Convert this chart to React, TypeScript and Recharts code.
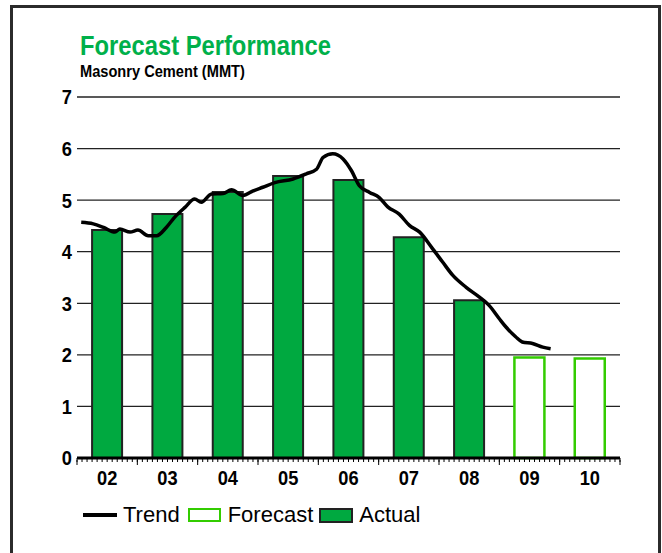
import React from "react";
import { ComposedChart, Bar, Line, XAxis, YAxis, CartesianGrid } from "recharts";

const years = ["02", "03", "04", "05", "06", "07", "08", "09", "10"];
const actual = [4.42, 4.73, 5.16, 5.47, 5.39, 4.28, 3.06, null, null];
const forecast = [null, null, null, null, null, null, null, 1.95, 1.93];

// trend position is in category units (0 = "02", 8 = "10")
const trendX = [
  -0.43, -0.23, -0.06, 0.13, 0.21, 0.38, 0.51, 0.68, 0.82, 0.98, 1.12, 1.29, 1.45, 1.56, 1.73, 1.92,
  2.06, 2.25, 2.42, 2.58, 2.78, 3.08, 3.3, 3.47, 3.58, 3.74, 3.91, 4.05, 4.18, 4.35, 4.51, 4.65,
  4.84, 5.01, 5.18, 5.38, 5.56, 5.73, 5.95, 6.17, 6.33, 6.5, 6.61, 6.77, 6.88, 7.05, 7.22, 7.35
];
const trendY = [
  4.57, 4.54, 4.47, 4.38, 4.44, 4.38, 4.42, 4.31, 4.31, 4.47, 4.67, 4.86, 5.02, 4.96, 5.12, 5.13,
  5.2, 5.09, 5.18, 5.25, 5.34, 5.41, 5.51, 5.6, 5.83, 5.9, 5.8, 5.57, 5.28, 5.15, 5.05, 4.87,
  4.73, 4.51, 4.38, 4.08, 3.8, 3.54, 3.31, 3.12, 2.96, 2.7, 2.54, 2.35, 2.25, 2.22, 2.15, 2.12
];

const yTicks = [0, 1, 2, 3, 4, 5, 6, 7];

const data = years.map((year, i) => ({ year, actual: actual[i], forecast: forecast[i] }));
const trendData = trendX.map((x, i) => ({ x, trend: trendY[i] }));

// month ticks along the x axis
const monthTicks: number[] = [];
for (let i = 0; i <= years.length * 12; i++) monthTicks.push(-0.5 + i / 12);

const GREEN = "#00A940";
const LIGHT_GREEN = "#33CC00";
const FONT = "'Liberation Sans', Arial, sans-serif";

const near = (a: number, b: number) => Math.abs(a - b) < 1e-6;

const YTick = (props: any) => {
  const { x, y, payload } = props;
  return (
    <g transform={`translate(${x} ${y}) scale(0.87 1)`}>
      <text x={0} y={0} dy="0.355em" textAnchor="end" fontSize={21} fontWeight="bold" fill="#000" fontFamily={FONT}>
        {payload.value}
      </text>
    </g>
  );
};

// month ticks: longer at year boundaries, year label at year centre
const MonthTick = (props: any) => {
  const { x, y, payload } = props;
  const v = payload.value;
  const idx = Math.round(v);
  if (near(v + 0.5, Math.round(v + 0.5))) {
    return <line x1={x} x2={x} y1={y - 2} y2={y + 3} stroke="#000" strokeWidth={1} />;
  }
  if (near(v, idx) && years[idx]) {
    return (
      <g transform={`translate(${x} ${y + 8}) scale(0.87 1)`}>
        <text x={0} y={0} dy="0.71em" textAnchor="middle" fontSize={21} fontWeight="bold" fill="#000" fontFamily={FONT}>
          {years[idx]}
        </text>
      </g>
    );
  }
  return <g />;
};

const App = () => {
  return (
    <div
      style={{
        position: "absolute",
        left: 0,
        top: 0,
        width: 662,
        height: 553,
        overflow: "hidden",
        background: "#fff",
        fontFamily: FONT
      }}
    >
      <div
        style={{
          position: "absolute",
          left: 10,
          top: 5,
          width: 651,
          height: 620,
          border: "3px solid #2b2b2b",
          boxSizing: "border-box"
        }}
      />
      <div
        style={{
          position: "absolute",
          left: 80,
          top: 33,
          fontSize: 27,
          lineHeight: "27px",
          fontWeight: "bold",
          color: "#00B04A",
          whiteSpace: "nowrap",
          transform: "scaleX(0.88)",
          transformOrigin: "left"
        }}
      >
        Forecast Performance
      </div>
      <div
        style={{
          position: "absolute",
          left: 80,
          top: 63,
          fontSize: 17,
          lineHeight: "17px",
          fontWeight: "bold",
          color: "#000",
          whiteSpace: "nowrap",
          transform: "scaleX(0.86)",
          transformOrigin: "left"
        }}
      >
        Masonry Cement (MMT)
      </div>
      <ComposedChart
        width={662}
        height={553}
        data={data}
        margin={{ top: 97, right: 42, bottom: 65, left: 0 }}
        barCategoryGap="25%"
        style={{ position: "absolute", left: 0, top: 0 }}
      >
        <CartesianGrid vertical={false} stroke="#222" strokeWidth={1.3} />
        <XAxis xAxisId="cat" dataKey="year" hide height={0} />
        <XAxis
          xAxisId="m"
          type="number"
          dataKey="x"
          domain={[-0.5, 8.5]}
          allowDataOverflow
          ticks={monthTicks}
          interval={0}
          height={30}
          axisLine={{ stroke: "#000", strokeWidth: 3 }}
          tickLine={{ stroke: "#000", strokeWidth: 1 }}
          tickSize={4}
          tickMargin={0}
          tick={<MonthTick />}
        />
        <YAxis
          width={77}
          domain={[0, 7]}
          ticks={yTicks}
          interval={0}
          axisLine={false}
          tickLine={false}
          tickSize={0}
          tickMargin={5}
          tick={<YTick />}
        />
        <Bar
          xAxisId="cat"
          dataKey="actual"
          stackId="s"
          fill={GREEN}
          stroke="#222"
          strokeWidth={2}
          isAnimationActive={false}
        />
        <Bar
          xAxisId="cat"
          dataKey="forecast"
          stackId="s"
          fill="#fff"
          stroke={LIGHT_GREEN}
          strokeWidth={2.5}
          isAnimationActive={false}
        />
        <Line
          xAxisId="m"
          data={trendData}
          dataKey="trend"
          type="monotone"
          stroke="#000"
          strokeWidth={3.5}
          dot={false}
          isAnimationActive={false}
        />
      </ComposedChart>
      <div
        style={{
          position: "absolute",
          left: 83,
          top: 503,
          height: 24,
          display: "flex",
          alignItems: "center",
          fontSize: 22,
          lineHeight: "24px",
          color: "#000",
          whiteSpace: "nowrap"
        }}
      >
        <span style={{ width: 34, height: 4, background: "#000", marginRight: 6 }} />
        <span style={{ marginRight: 8 }}>Trend</span>
        <span
          style={{
            width: 33,
            height: 14,
            border: `2px solid ${LIGHT_GREEN}`,
            boxSizing: "border-box",
            background: "#fff",
            marginRight: 7
          }}
        />
        <span style={{ marginRight: 6 }}>Forecast</span>
        <span
          style={{
            width: 34,
            height: 15,
            border: "2px solid #222",
            boxSizing: "border-box",
            background: GREEN,
            marginRight: 6
          }}
        />
        <span>Actual</span>
      </div>
    </div>
  );
};

export default App;
